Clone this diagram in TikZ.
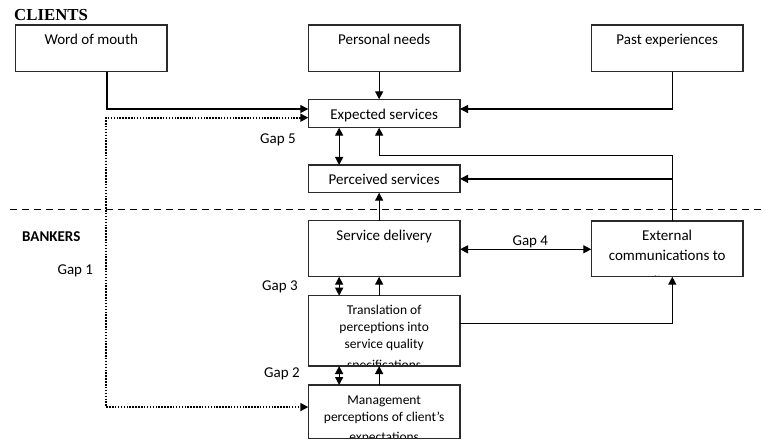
\documentclass[tikz,border=0pt]{standalone}
\usepackage{fontspec}
\setmainfont{Carlito}
\newfontfamily\serifb{Liberation Serif}
\usetikzlibrary{arrows.meta}
\definecolor{boxc}{HTML}{2A2A2A}
\tikzset{
  box/.style={draw=boxc, line width=1.3pt, inner sep=0pt, outer sep=0pt, anchor=north west},
  txt/.style={font=\fontsize{15}{18}\selectfont, anchor=base, inner sep=0pt},
  txts/.style={font=\fontsize{13.5}{17}\selectfont, anchor=base, inner sep=0pt},
  arr/.style={-{Triangle[length=8pt,width=8pt]}, line width=1.3pt},
  darr/.style={{Triangle[length=8pt,width=8pt]}-{Triangle[length=8pt,width=8pt]}, line width=1.3pt},
  dotline/.style={{Triangle[length=8pt,width=8pt]}-{Triangle[length=8pt,width=8pt]}, line width=1.8pt, dash pattern=on 1.5pt off 1.4pt},
  divider/.style={line width=1.3pt, dash pattern=on 7pt off 5pt},
}
\begin{document}
\begin{tikzpicture}[x=1pt,y=-1pt]
\useasboundingbox (0,0) rectangle (763,441);

% boxes
\node[box, minimum width=151.5pt, minimum height=46.7pt] (wom) at (15.5,25) {};
\node[box, minimum width=151.7pt, minimum height=46.7pt] (pn) at (308.3,25) {};
\node[box, minimum width=151.7pt, minimum height=46.7pt] (pe) at (591.3,25) {};
\node[box, minimum width=151.7pt, minimum height=28.4pt] (exp) at (308.3,99.3) {};
\node[box, minimum width=151.7pt, minimum height=27.7pt] (per) at (308.3,165) {};
\node[box, minimum width=151.7pt, minimum height=56pt] (sd) at (308.3,220.7) {};
\node[box, minimum width=151.7pt, minimum height=55.7pt] (ext) at (591.3,221) {};
\node[box, minimum width=151.7pt, minimum height=70.3pt] (tr) at (308.3,295.7) {};
\node[box, minimum width=151.7pt, minimum height=53.5pt] (mg) at (308.3,385) {};

% section labels
\node[font=\serifb\bfseries\fontsize{16.8}{18}\selectfont, anchor=base west, inner sep=0pt] (clients) at (14,21) {CLIENTS};
\node[font=\bfseries\fontsize{15}{18}\selectfont, anchor=base west, inner sep=0pt] (bankers) at (22,241) {BANKERS};

% box texts
\node[txt] (womt) at (91.3,44.3) {Word of mouth};
\node[txt] (pnt) at (384.2,44.3) {Personal needs};
\node[txt] (pet) at (667.2,44.3) {Past experiences};
\node[txt] (expt) at (384.2,119.3) {Expected services};
\node[txt] (pert) at (384.2,184.3) {Perceived services};
\node[txt] (sdt) at (384.2,240.3) {Service delivery};

\begin{scope}
  \clip (ext.north west) rectangle (ext.south east);
  \node[txt] (ext1) at (667.2,240.7) {External};
  \node[txt] (ext2) at (667.2,260) {communications to};
  \node[txt] (ext3) at (667.2,286) {clients};
\end{scope}
\begin{scope}
  \clip (tr.north west) rectangle (tr.south east);
  \node[txts] (tr1) at (384.2,314.3) {Translation of};
  \node[txts] (tr2) at (384.2,331.4) {perceptions into};
  \node[txts] (tr3) at (384.2,348.5) {service quality};
  \node[txts] (tr4) at (384.2,369.5) {specifications};
\end{scope}
\begin{scope}
  \clip (mg.north west) rectangle (mg.south east);
  \node[txts] (mg1) at (384.2,404.3) {Management};
  \node[txts] (mg2) at (384.2,421.3) {perceptions of client’s};
  \node[txts] (mg3) at (384.2,441.5) {expectations};
\end{scope}
% redraw borders over clipped text
\draw[draw=boxc, line width=1.3pt] (ext.north west) rectangle (ext.south east);
\draw[draw=boxc, line width=1.3pt] (tr.north west) rectangle (tr.south east);
\draw[draw=boxc, line width=1.3pt] (mg.north west) rectangle (mg.south east);

% gap labels
\node[txt] (g5) at (278,143.8) {Gap 5};
\node[txt] (g1) at (75.3,274.8) {Gap 1};
\node[txt] (g4) at (530.3,245.7) {Gap 4};
\node[txt] (g3) at (280,290.8) {Gap 3};
\node[txt] (g2) at (282,377.8) {Gap 2};

% divider
\coordinate (dvl) at (10,209.3);
\coordinate (dvr) at (763,209.3);
\draw[divider] (dvl) -- (dvr);

% connectors
\coordinate (dl) at (106,260);
\coordinate (tk) at (672.3,155.3);
\draw[arr] ([xshift=15.7pt]wom.south) |- ([yshift=4.5pt]exp.west);
\draw[dotline] ([yshift=-4.2pt]exp.west) -| (dl) |- ([yshift=4.7pt]mg.west);
\draw[arr] ([xshift=-5pt]pn.south) -- ([xshift=-5pt]exp.north);
\draw[arr] ([xshift=5.1pt]pe.south) |- ([yshift=4.5pt]exp.east);
\draw[darr] ([xshift=-45pt]exp.south) -- ([xshift=-45pt]per.north);
\draw[arr] (ext.north -| tk) -- (tk) -| ([xshift=-5pt]exp.south);
\draw[arr] (tk |- per.east) -- (per.east);
\draw[arr] ([xshift=-5pt]sd.north) -- ([xshift=-5pt]per.south);
\draw[darr] ([yshift=-0.6pt]sd.east) -- ([yshift=-0.6pt]sd.east -| ext.west);
\draw[darr] ([xshift=-45pt]sd.south) -- ([xshift=-45pt]tr.north);
\draw[arr] ([xshift=-5pt]tr.north) -- ([xshift=-5pt]sd.south);
\draw[arr] ([yshift=7.5pt]tr.east) -| (ext.south -| tk);
\draw[darr] ([xshift=-45pt]tr.south) -- ([xshift=-45pt]mg.north);
\draw[arr] ([xshift=-5pt]mg.north) -- ([xshift=-5pt]tr.south);
\end{tikzpicture}
\end{document}
